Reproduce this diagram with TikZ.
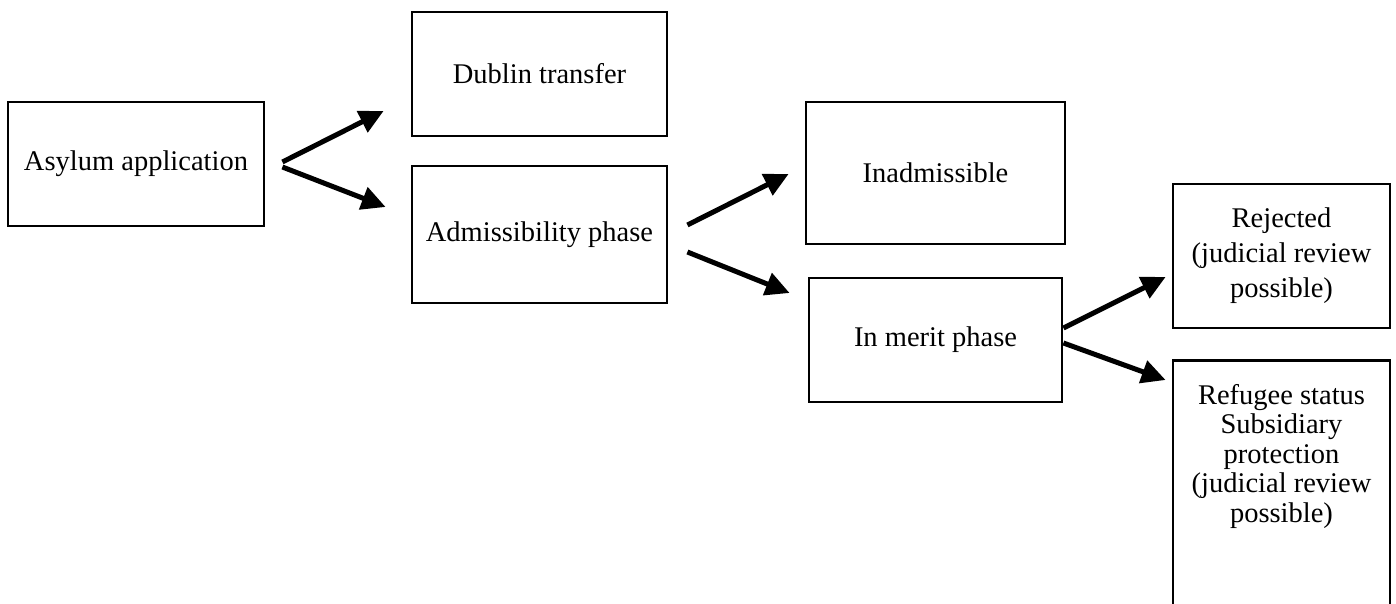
\documentclass[tikz,border=0pt]{standalone}
\usepackage{fontspec}
\setmainfont{Liberation Serif}
\usetikzlibrary{arrows.meta}
\begin{document}
\begin{tikzpicture}[x=1pt,y=-1pt,
  box/.style={draw, line width=2.8pt, rectangle, inner sep=0pt, align=center,
    font=\fontsize{28.5}{35}\selectfont},
  txt/.style={inner sep=0pt, align=center, font=\fontsize{28.5}{29.5}\selectfont},
  arr/.style={line width=5pt, -{Triangle[length=24pt,width=23pt]}}]
\useasboundingbox (0,0) rectangle (1396,604);
\clip (0,0) rectangle (1396,604);
\node[box, minimum width=256pt, minimum height=124pt] (asy) at (136,164) {Asylum application};
\node[box, minimum width=255pt, minimum height=124pt] (dub) at (539.5,74) {Dublin transfer};
\node[box, minimum width=255pt, minimum height=137pt] (adm) at (539.5,234.5) {Admissibility phase};
\node[box, minimum width=259pt, minimum height=142pt] (ina) at (935.5,173) {Inadmissible};
\node[box, minimum width=253pt, minimum height=124pt] (mer) at (935.5,340) {In merit phase};
\node[box, minimum width=217pt, minimum height=144pt] (rej) at (1281.5,256) {Rejected\\ (judicial review\\possible)};
\node[box, minimum width=217pt, minimum height=280pt, anchor=north] (ref) at (1281.5,359) {};
\node[txt] (reft) at (1281.5,456) {Refugee status\\Subsidiary\\protection\\(judicial review\\possible)};
\draw[arr] ([shift={(17,-2)}]asy.east) -- ([shift={(-27,37)}]dub.west);
\draw[arr] ([shift={(17,3)}]asy.east) -- ([shift={(-25,-27.5)}]adm.west);
\draw[arr] ([shift={(19,-9.5)}]adm.east) -- ([shift={(-16,1)}]ina.west);
\draw[arr] ([shift={(19,17.5)}]adm.east) -- ([shift={(-18,-47)}]mer.west);
\draw[arr] ([shift={(0,-12)}]mer.east) -- ([shift={(-6,21)}]rej.west);
\draw[arr] ([shift={(0,3)}]mer.east) -- ([shift={(-6,21)}]ref.north west);
\end{tikzpicture}
\end{document}
